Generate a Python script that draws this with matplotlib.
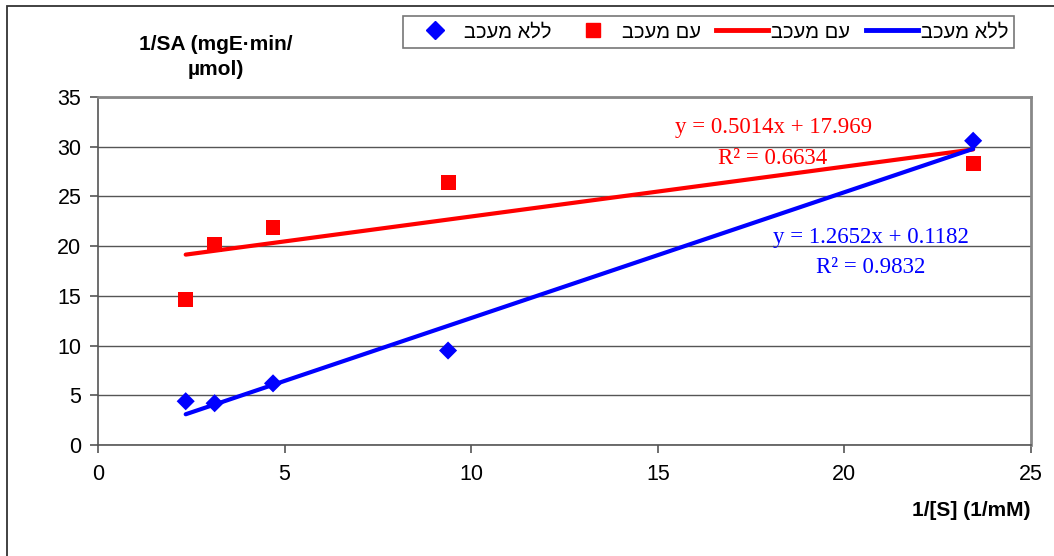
import matplotlib
matplotlib.use("Agg")
import matplotlib.pyplot as plt
from matplotlib.patches import Rectangle
from matplotlib.lines import Line2D

# Lineweaver-Burk data: 1/[S] (1/mM) vs 1/SA
inv_s = [2.35, 3.125, 4.69, 9.38, 23.45]
no_inhibitor = [4.4, 4.2, 6.2, 9.5, 30.6]
with_inhibitor = [14.6, 20.2, 21.9, 26.4, 28.3]

# Linear trend lines (slope, intercept, R^2)
fit_no = (1.2652, 0.1182, 0.9832)
fit_with = (0.5014, 17.969, 0.6634)

label_no = "ללא מעכב"
label_with = "עם מעכב"

x_ticks = [0, 5, 10, 15, 20, 25]
y_ticks = [0, 5, 10, 15, 20, 25, 30, 35]


def visual(s):
    # Hebrew is right-to-left; matplotlib lays glyphs out left-to-right
    return s[::-1]


sans = ["Liberation Sans", "DejaVu Sans"]
serif = ["Liberation Serif", "DejaVu Serif"]
plt.rcParams["font.family"] = sans

W, H = 1054, 556
fig = plt.figure(figsize=(W / 100, H / 100), dpi=100)
ax = fig.add_axes([98 / W, 1 - 445 / H, (1031 - 98) / W, (445 - 97) / H])

# outer chart frame
fig.patches.append(Rectangle((7 / W, -0.05), 1.1, 1 - 6 / H + 0.05,
                             transform=fig.transFigure, fill=False,
                             edgecolor="#333333", linewidth=1.3))

ax.set_xlim(0, 25)
ax.set_ylim(0, 35)
ax.set_xticks(x_ticks)
ax.set_yticks(y_ticks)
ax.grid(axis="y", color="#555555", linewidth=1.0)
ax.set_axisbelow(True)
for side in ("top", "right"):
    ax.spines[side].set_color("#888888")
    ax.spines[side].set_linewidth(2)
for side in ("left", "bottom"):
    ax.spines[side].set_color("#555555")
    ax.spines[side].set_linewidth(1.2)
ax.tick_params(direction="out", length=6, width=1.2, color="#555555",
               labelsize=15.5)
ax.tick_params(axis="x", pad=8)
ax.tick_params(axis="y", pad=6)

# trend lines over the data range
x0, x1 = min(inv_s), max(inv_s)
for (m, b, _), col in ((fit_with, "red"), (fit_no, "blue")):
    ax.plot([x0, x1], [m * x0 + b, m * x1 + b], color=col, linewidth=3,
            solid_capstyle="round", zorder=3)

ax.scatter(inv_s, no_inhibitor, marker="D", s=85, color="blue",
           edgecolors="none", zorder=4)
ax.scatter(inv_s, with_inhibitor, marker="s", s=115, color="red",
           edgecolors="none", zorder=4)

# equation labels
eq_font = dict(fontsize=16.5, family=serif, ha="center", va="center")
ax.text(18.09, 31.95, f"y = {fit_with[0]}x + {fit_with[1]}", color="red", **eq_font)
ax.text(18.09, 28.85, f"R² = {fit_with[2]}", color="red", **eq_font)
ax.text(20.71, 20.9, f"y = {fit_no[0]}x + {fit_no[1]}", color="blue", **eq_font)
ax.text(20.71, 17.9, f"R² = {fit_no[2]}", color="blue", **eq_font)

# axis titles
fig.text(216 / W, 1 - 57 / H, "1/SA (mgE·min/\nµmol)", ha="center",
         va="center", fontsize=15, fontweight="bold", linespacing=1.4)
fig.text(1031 / W, 1 - 510 / H, "1/[S] (1/mM)", ha="right", va="center",
         fontsize=15, fontweight="bold")

handles = [
    Line2D([], [], marker="D", color="blue", linestyle="none", markersize=9),
    Line2D([], [], marker="s", color="red", linestyle="none", markersize=10.5),
    Line2D([], [], color="red", linewidth=3.5),
    Line2D([], [], color="blue", linewidth=3.5),
]
labels = [visual(label_no), visual(label_with), visual(label_with), visual(label_no)]
leg = fig.legend(handles, labels, loc="center", ncol=4,
                 bbox_to_anchor=(708.5 / W, 1 - 32 / H), frameon=True,
                 fancybox=False, edgecolor="#555555",
                 handlelength=2.6, columnspacing=0.75, handletextpad=0.15,
                 borderpad=0.3, borderaxespad=0,
                 prop={"family": sans, "size": 14.5})
leg.get_frame().set_linewidth(1.2)

fig.savefig("out.png", dpi=100)
